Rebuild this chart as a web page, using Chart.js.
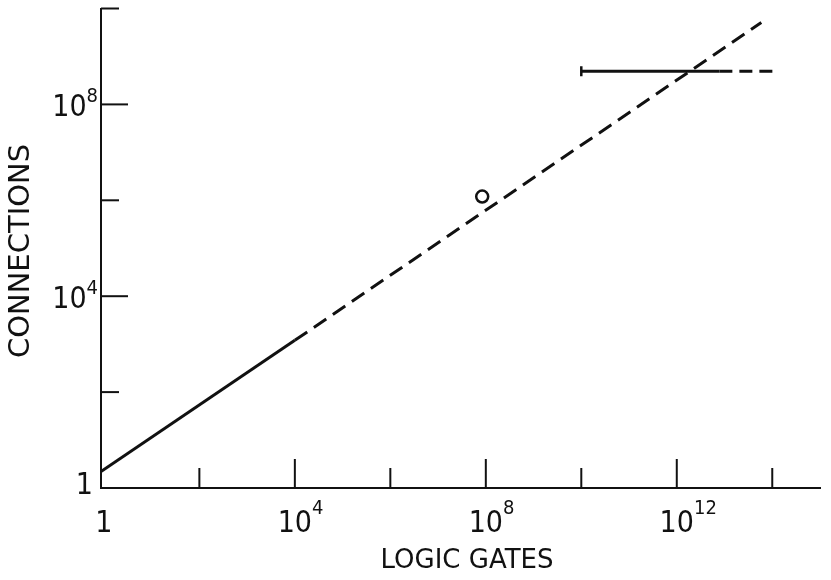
<!DOCTYPE html>
<html>
<head>
<meta charset="utf-8">
<script src="https://cdn.jsdelivr.net/npm/chart.js@4/dist/chart.umd.min.js"></script>
<style>
  body { margin:0; background:#fff; }
</style>
</head>
<body>
<canvas id="gates" width="831" height="580"></canvas>
<script>
// trend line: solid part then dashed extrapolation
const trendSolidX = [0.87, 1e4];
const trendSolidY = [2.2, 1200];
const trendDashX = [1e4, 5.9e13];
const trendDashY = [1200, 5.1e9];

// horizontal range bar
const rangeSolidX = [1e10, 7.8e12];
const rangeDashX = [7.8e12, 1.3e14];
const rangeY = 4.9e8;

// single observed point
const pointX = [8.4e7];
const pointY = [1.2e6];

// tick marks and labels (exponents of 10)
const xMajorTicks = [1e4, 1e8, 1e12];
const xMinorTicks = [1e2, 1e6, 1e10, 1e14];
const yMajorTicks = [1e4, 1e8];
const yMinorTicks = [1e2, 1e6, 1e10];
const xLabelExps = [0, 4, 8, 12];
const yLabelExps = [0, 4, 8];

const ink = '#111';
const labelFont = "'DejaVu Sans Condensed', 'DejaVu Sans', sans-serif";

function pts(xs, ys){
    return xs.map((x,i)=>({x:x, y:Array.isArray(ys) ? ys[i] : ys}));
}

const decorations = {
    id:'decorations',
    afterDraw(chart){
        const ctx = chart.ctx;
        const xs = chart.scales.x, ys = chart.scales.y;
        const bottom = ys.getPixelForValue(1);
        const left = chart.chartArea.left;
        ctx.save();
        ctx.strokeStyle = ink;
        ctx.fillStyle = ink;
        ctx.lineWidth = 2;

        // inward ticks on both axes
        const tick = (x1,y1,x2,y2)=>{ ctx.beginPath(); ctx.moveTo(x1,y1); ctx.lineTo(x2,y2); ctx.stroke(); };
        xMajorTicks.forEach(v=>{ const p = xs.getPixelForValue(v); tick(p,bottom,p,bottom-29); });
        xMinorTicks.forEach(v=>{ const p = xs.getPixelForValue(v); tick(p,bottom,p,bottom-20); });
        yMajorTicks.forEach(v=>{ const p = ys.getPixelForValue(v); tick(left,p,left+27,p); });
        yMinorTicks.forEach(v=>{ const p = ys.getPixelForValue(v); tick(left,p,left+18,p); });

        // x tick labels
        xLabelExps.forEach(e=>{
            const p = xs.getPixelForValue(Math.pow(10,e));
            ctx.font = '30px ' + labelFont;
            ctx.textAlign = 'center';
            ctx.textBaseline = 'alphabetic';
            if(e===0){ ctx.fillText('1', p, 532); return; }
            ctx.fillText('10', p, 532);
            const w = ctx.measureText('10').width;
            ctx.font = '20px ' + labelFont;
            ctx.textAlign = 'left';
            ctx.fillText(String(e), p + w/2, 514);
        });

        // y tick labels
        yLabelExps.forEach(e=>{
            const p = ys.getPixelForValue(Math.pow(10,e));
            ctx.textBaseline = 'alphabetic';
            ctx.textAlign = 'right';
            if(e===0){
                ctx.font = '30px ' + labelFont;
                ctx.fillText('1', 93, p + 6);
                return;
            }
            ctx.font = '20px ' + labelFont;
            ctx.fillText(String(e), 98, p - 2);
            const ew = ctx.measureText(String(e)).width;
            ctx.font = '30px ' + labelFont;
            ctx.fillText('10', 98 - ew, p + 12);
        });

        // axis titles
        ctx.font = "26px 'DejaVu Sans', sans-serif";
        ctx.textAlign = 'center';
        ctx.textBaseline = 'middle';
        ctx.fillText('LOGIC GATES', 467, 561);
        ctx.save();
        ctx.translate(21, 251);
        ctx.rotate(-Math.PI/2);
        ctx.font = "29px 'DejaVu Sans', sans-serif";
        ctx.fillText('CONNECTIONS', 0, 0);
        ctx.restore();
        ctx.restore();
    }
};

const lineDefaults = { showLine:true, borderColor:ink, borderWidth:3, pointRadius:0, fill:false };

new Chart(document.getElementById('gates').getContext('2d'), {
    type:'scatter',
    data:{
        datasets:[
            Object.assign({ label:'trend', data:pts(trendSolidX, trendSolidY) }, lineDefaults),
            Object.assign({ label:'trend extrapolated', data:pts(trendDashX, trendDashY), borderDash:[15,8] }, lineDefaults),
            Object.assign({}, lineDefaults, { label:'range', data:pts(rangeSolidX, rangeY),
                pointRadius:[5,0], pointStyle:'line', rotation:90, pointBorderColor:ink, pointBorderWidth:2.5 }),
            Object.assign({ label:'range extrapolated', data:pts(rangeDashX, rangeY), borderDash:[13,7] }, lineDefaults),
            { label:'observed', data:pts(pointX, pointY), showLine:false, pointStyle:'circle',
              pointRadius:6, pointBorderWidth:2.5, pointBorderColor:ink, pointBackgroundColor:'#fff' }
        ]
    },
    options:{
        responsive:false,
        animation:false,
        events:[],
        layout:{ padding:{ left:101, right:11, top:7, bottom:92 } },
        plugins:{ legend:{ display:false }, tooltip:{ enabled:false } },
        scales:{
            x:{
                type:'logarithmic', min:0.87, max:1e15,
                ticks:{ display:false },
                grid:{ display:true, drawOnChartArea:false, drawTicks:false },
                border:{ display:true, color:ink, width:2 }
            },
            y:{
                type:'logarithmic', min:1, max:1e10,
                ticks:{ display:false },
                grid:{ display:true, drawOnChartArea:false, drawTicks:false },
                border:{ display:true, color:ink, width:2 }
            }
        }
    },
    plugins:[decorations]
});
</script>
</body>
</html>
